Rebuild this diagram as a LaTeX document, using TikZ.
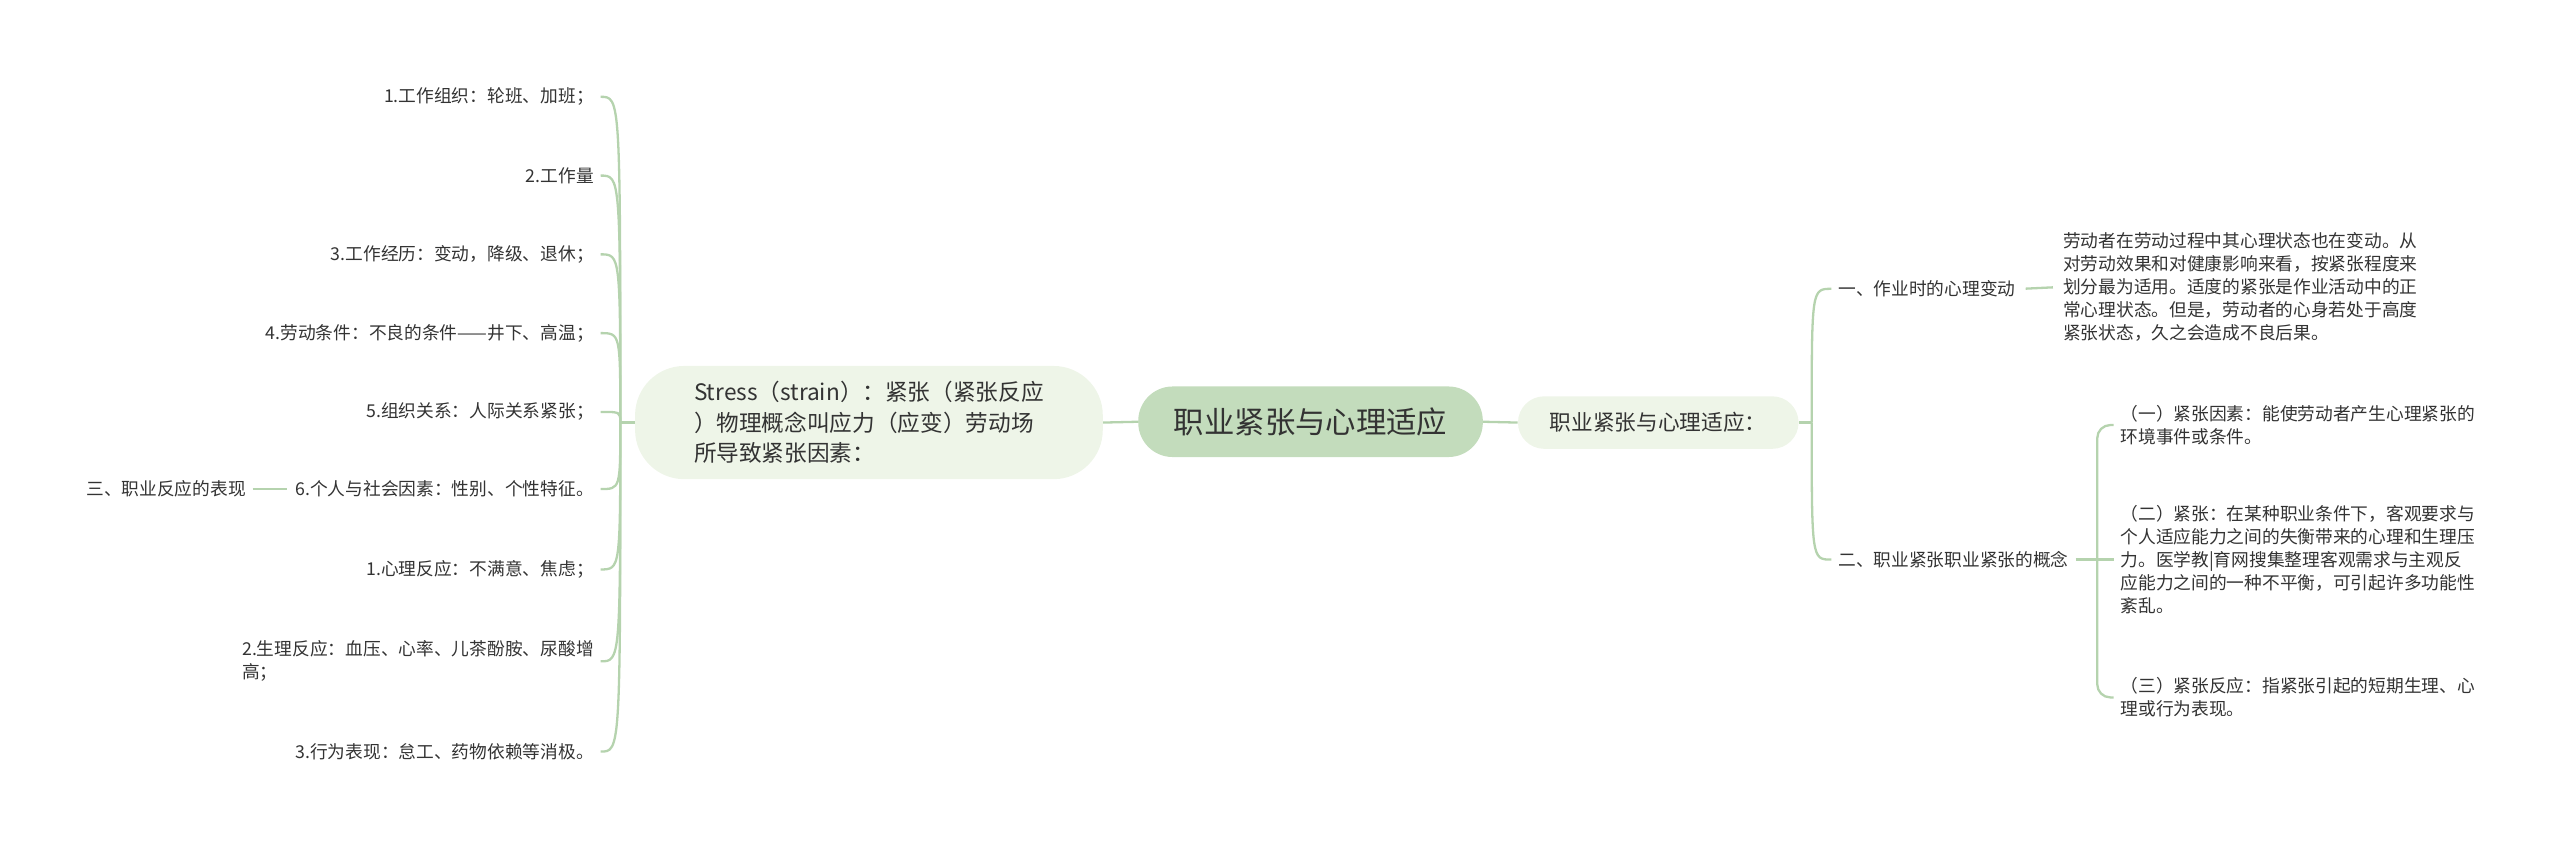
\documentclass[tikz,border=0pt]{standalone}
\usepackage{fontspec}
\setmainfont{Noto Sans CJK SC}
\usetikzlibrary{calc}
\definecolor{linec}{HTML}{B5D3AE}
\definecolor{mainfill}{HTML}{C3DCBC}
\definecolor{subfill}{HTML}{EEF5E8}
\definecolor{txt}{HTML}{333333}
\begin{document}
\begin{tikzpicture}[x=1pt,y=-1pt,
  conn/.style={draw=linec, line width=1.4pt},
  leaf/.style={font=\fontsize{10.8}{14}\selectfont, text=txt, inner ysep=2pt, inner xsep=4pt, align=left},
  mainnode/.style={fill=mainfill, rounded corners=21pt, minimum width=210pt, minimum height=43pt, font=\fontsize{18.5}{22}\selectfont, text=txt, inner sep=0pt},
  subnode/.style={fill=subfill, text=txt, inner sep=0pt, align=left}
]
\useasboundingbox (0,0) rectangle (1560,514);

% central and first-level nodes
\node[mainnode] (C) at (798.6,257) {职业紧张与心理适应};
\node[subnode, rounded corners=30pt, minimum width=285pt, minimum height=69pt, font=\fontsize{13.8}{18.5}\selectfont] (L) at (529.5,257.5) {Stress（strain）：紧张（紧张反应\\）物理概念叫应力（应变）劳动场\\所导致紧张因素：};
\node[subnode, rounded corners=16pt, minimum width=171pt, minimum height=32pt, font=\fontsize{13.2}{16}\selectfont] (R) at (1010.5,257.5) {职业紧张与心理适应：};

\draw[conn] (L.east) -- (C.west);
\draw[conn] (C.east) -- (R.west);

% left leaves
\node[leaf, anchor=east] (l1) at (366,59) {1.工作组织：轮班、加班；};
\node[leaf, anchor=east] (l2) at (366,107) {2.工作量};
\node[leaf, anchor=east] (l3) at (366,155) {3.工作经历：变动，降级、退休；};
\node[leaf, anchor=east] (l4) at (366,203) {4.劳动条件：不良的条件——井下、高温；};
\node[leaf, anchor=east] (l5) at (366,251) {5.组织关系：人际关系紧张；};
\node[leaf, anchor=east] (l6) at (366,298) {6.个人与社会因素：性别、个性特征。};
\node[leaf, anchor=east] (l7) at (366,347) {1.心理反应：不满意、焦虑；};
\node[leaf, anchor=east] (l8) at (366,403) {2.生理反应：血压、心率、儿茶酚胺、尿酸增\\高；};
\node[leaf, anchor=east] (l9) at (366,458) {3.行为表现：怠工、药物依赖等消极。};
\node[leaf, anchor=east, inner xsep=2pt] (s3) at (152,298) {三、职业反应的表现};

\coordinate (JL) at (378,257.5);
\draw[conn] (L.west) -- (JL);
\foreach \n in {l1,l2,l3,l4,l5,l6,l7,l8,l9}{
  \draw[conn] (JL) .. controls (JL |- \n.east) .. (\n.east);
}
\draw[conn, shorten <=2pt, shorten >=1pt] (s3.east) -- (l6.west);

% right side
\coordinate (JR) at (1104,257.5);
\draw[conn] (R.east) -- (JR);
\node[leaf, anchor=west] (r1) at (1116,176) {一、作业时的心理变动};
\node[leaf, anchor=west] (r2) at (1116,341) {二、职业紧张职业紧张的概念};
\draw[conn] (JR) .. controls (JR |- r1.west) .. (r1.west);
\draw[conn] (JR) .. controls (JR |- r2.west) .. (r2.west);

\node[leaf, anchor=west] (p1) at (1253,175) {劳动者在劳动过程中其心理状态也在变动。从\\对劳动效果和对健康影响来看，按紧张程度来\\划分最为适用。适度的紧张是作业活动中的正\\常心理状态。但是，劳动者的心身若处于高度\\紧张状态，久之会造成不良后果。};
\draw[conn, shorten <=2pt, shorten >=2pt] (r1.east) -- (p1.west);

\coordinate (J2) at (1278,341);
\draw[conn] (r2.east) -- (J2);
\node[leaf, anchor=west] (c1) at (1288,259) {（一）紧张因素：能使劳动者产生心理紧张的\\环境事件或条件。};
\node[leaf, anchor=west] (c2) at (1288,341) {（二）紧张：在某种职业条件下，客观要求与\\个人适应能力之间的失衡带来的心理和生理压\\力。医学教|育网搜集整理客观需求与主观反\\应能力之间的一种不平衡，可引起许多功能性\\紊乱。};
\node[leaf, anchor=west] (c3) at (1288,425) {（三）紧张反应：指紧张引起的短期生理、心\\理或行为表现。};
\draw[conn] (J2) -- (c2.west);
\draw[conn, rounded corners=8pt] (J2) |- (c1.west);
\draw[conn, rounded corners=8pt] (J2) |- (c3.west);
\end{tikzpicture}
\end{document}
